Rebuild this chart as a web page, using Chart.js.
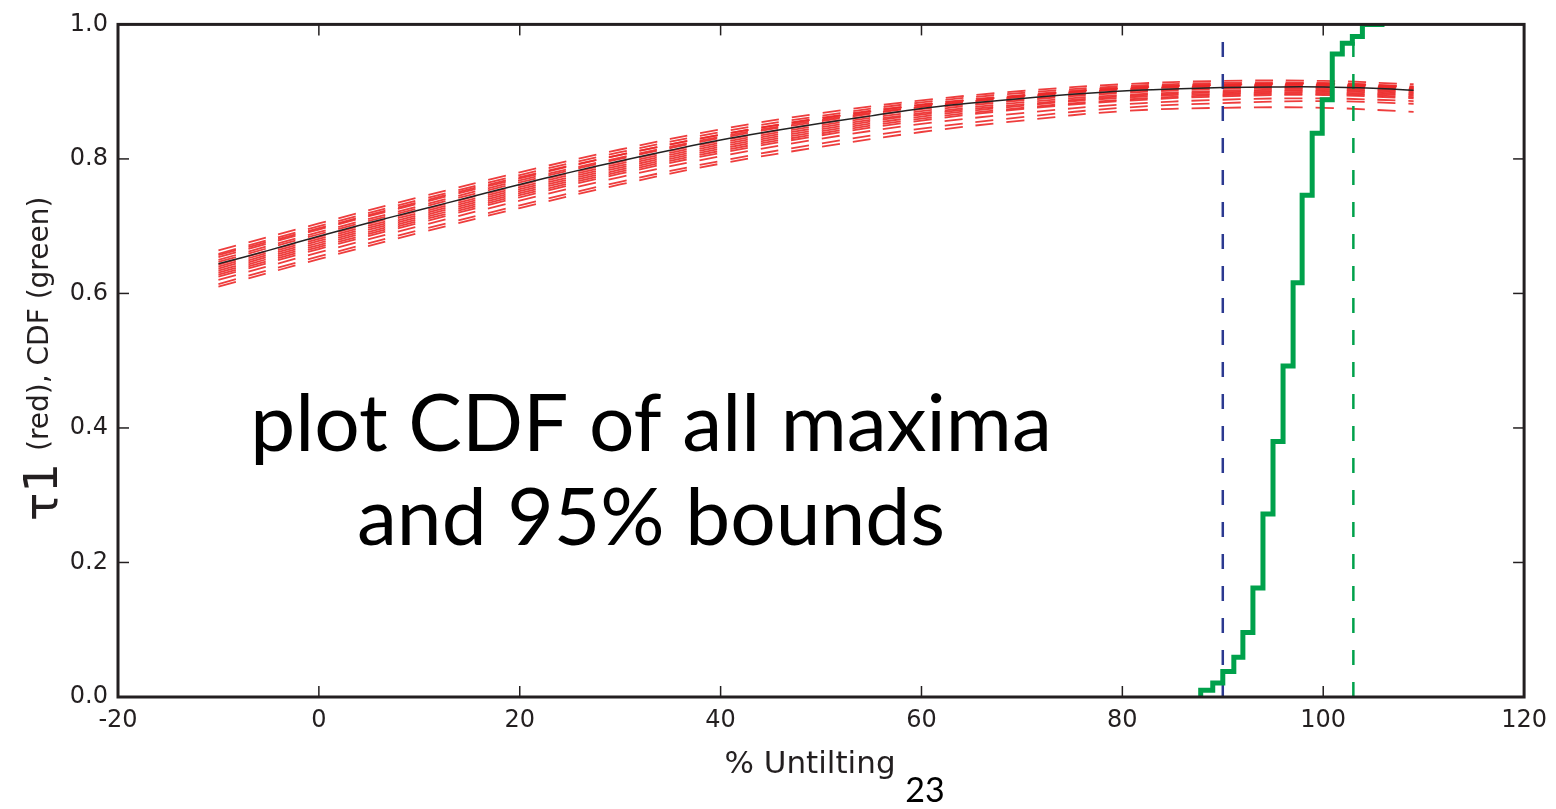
<!DOCTYPE html>
<html>
<head>
<meta charset="utf-8">
<script src="https://cdn.jsdelivr.net/npm/chart.js@4.4.1/dist/chart.umd.min.js"></script>
<style>
  body { margin: 0; background: #fff; }
  canvas { display: block; }
</style>
</head>
<body>
<canvas id="cdfChart" width="1556" height="809"></canvas>
<script>
// axis ticks
const xTicks = [-20, 0, 20, 40, 60, 80, 100, 120];
const yTicks = [0, 0.2, 0.4, 0.6, 0.8, 1.0];

// % untilting where the tau1 curves are sampled
const untilt = [-10, 0, 10, 20, 30, 40, 50, 60, 70, 80, 90, 100, 109];

// mean tau1 curve (black)
const meanX = [-10, -5, 0, 5, 10, 15, 20, 25, 30, 35, 40, 45, 50, 55, 60, 65, 70, 75, 80, 85, 90, 95, 100, 105, 109];
const meanTau = [0.644, 0.664, 0.685, 0.705, 0.724, 0.743, 0.762, 0.780, 0.797, 0.813, 0.828, 0.841, 0.853, 0.864, 0.875, 0.883, 0.890, 0.896, 0.901, 0.904, 0.906, 0.907, 0.907, 0.905, 0.902];

// bootstrap tau1 curves (red dashed)
const bootTau = [
  [0.664, 0.704, 0.743, 0.780, 0.814, 0.844, 0.868, 0.887, 0.901, 0.911, 0.916, 0.916, 0.911],
  [0.659, 0.700, 0.739, 0.776, 0.810, 0.840, 0.864, 0.884, 0.898, 0.908, 0.913, 0.913, 0.908],
  [0.657, 0.697, 0.736, 0.773, 0.806, 0.836, 0.860, 0.880, 0.894, 0.905, 0.910, 0.912, 0.907],
  [0.654, 0.695, 0.734, 0.771, 0.806, 0.836, 0.861, 0.881, 0.895, 0.906, 0.911, 0.911, 0.906],
  [0.650, 0.691, 0.730, 0.768, 0.802, 0.833, 0.858, 0.878, 0.893, 0.904, 0.909, 0.910, 0.905],
  [0.647, 0.688, 0.727, 0.765, 0.800, 0.831, 0.856, 0.877, 0.892, 0.903, 0.908, 0.909, 0.904],
  [0.643, 0.684, 0.723, 0.761, 0.796, 0.827, 0.853, 0.874, 0.889, 0.900, 0.906, 0.907, 0.902],
  [0.640, 0.681, 0.720, 0.758, 0.793, 0.824, 0.850, 0.871, 0.887, 0.898, 0.904, 0.905, 0.900],
  [0.637, 0.678, 0.717, 0.755, 0.790, 0.821, 0.847, 0.868, 0.884, 0.895, 0.901, 0.903, 0.898],
  [0.634, 0.675, 0.714, 0.752, 0.787, 0.818, 0.844, 0.866, 0.881, 0.893, 0.899, 0.901, 0.896],
  [0.631, 0.672, 0.711, 0.749, 0.784, 0.815, 0.841, 0.863, 0.879, 0.891, 0.897, 0.899, 0.894],
  [0.628, 0.669, 0.708, 0.746, 0.781, 0.812, 0.838, 0.860, 0.876, 0.888, 0.895, 0.897, 0.892],
  [0.625, 0.666, 0.705, 0.743, 0.778, 0.809, 0.835, 0.857, 0.874, 0.886, 0.893, 0.895, 0.890],
  [0.620, 0.661, 0.700, 0.738, 0.773, 0.804, 0.830, 0.852, 0.868, 0.881, 0.888, 0.890, 0.886],
  [0.614, 0.655, 0.694, 0.731, 0.766, 0.797, 0.823, 0.845, 0.862, 0.876, 0.883, 0.886, 0.882],
  [0.610, 0.651, 0.690, 0.727, 0.762, 0.793, 0.818, 0.840, 0.857, 0.871, 0.876, 0.876, 0.870]
];

// CDF of all maxima (green steps)
const cdfX = [87.8, 87.8, 89.0, 90.0, 91.1, 92.0, 93.0, 94.0, 95.0, 96.0, 97.0, 97.9, 98.9, 99.9, 100.9, 101.9, 102.9, 103.9, 106.1];
const cdfY = [0, 0.010, 0.021, 0.038, 0.059, 0.096, 0.162, 0.272, 0.380, 0.492, 0.616, 0.746, 0.838, 0.888, 0.956, 0.972, 0.982, 1.0, 1.0];

// 95% bounds
const lowerBound = 90;
const upperBound = 103;

const ink = '#231f20';
const green = '#00a14b';

const toPts = (xs, ys) => xs.map((x, i) => ({ x: x, y: ys[i] }));

const datasets = [];
datasets.push({
    data: toPts(cdfX, cdfY),
    borderColor: green,
    borderWidth: 5,
    stepped: 'before',
    order: 0
});
datasets.push({
    data: toPts(meanX, meanTau),
    borderColor: '#222',
    borderWidth: 1.5,
    tension: 0.4,
    order: 1
});
datasets.push({
    data: [{ x: lowerBound, y: 0 }, { x: lowerBound, y: 1 }],
    borderColor: '#2b3990',
    borderWidth: 2.5,
    borderDash: [15, 17],
    order: 2
});
datasets.push({
    data: [{ x: upperBound, y: 0 }, { x: upperBound, y: 1 }],
    borderColor: green,
    borderWidth: 2.5,
    borderDash: [15, 17],
    order: 2
});
bootTau.forEach(curve => {
    datasets.push({
        data: toPts(untilt, curve),
        borderColor: 'rgba(236, 40, 40, 0.9)',
        borderWidth: 1.8,
        borderDash: [18, 13],
        tension: 0.4,
        order: 3
    });
});

const overlay = {
    id: 'overlay',
    afterDraw(chart) {
        const { ctx, chartArea: a, scales } = chart;
        const sx = scales.x, sy = scales.y;
        ctx.save();
        ctx.strokeStyle = ink;
        ctx.lineWidth = 1.5;
        const seg = (x1, y1, x2, y2) => { ctx.beginPath(); ctx.moveTo(x1, y1); ctx.lineTo(x2, y2); ctx.stroke(); };
        xTicks.forEach(v => {
            const px = sx.getPixelForValue(v);
            seg(px, a.bottom, px, a.bottom - 11);
            seg(px, a.top, px, a.top + 11);
        });
        yTicks.forEach(v => {
            const py = sy.getPixelForValue(v);
            seg(a.left, py, a.left + 11, py);
            seg(a.right, py, a.right - 11, py);
        });
        ctx.lineWidth = 3;
        ctx.strokeRect(a.left, a.top, a.right - a.left, a.bottom - a.top);

        ctx.fillStyle = ink;
        // x axis title
        ctx.textAlign = 'center';
        ctx.textBaseline = 'alphabetic';
        ctx.font = '31px "DejaVu Sans"';
        ctx.fillText('% Untilting', 810, 773);
        ctx.fillStyle = '#000';
        ctx.font = '34px Lato';
        ctx.fillText('23', 925, 802);

        // y axis title (rotated)
        ctx.fillStyle = ink;
        ctx.save();
        ctx.translate(57, 521);
        ctx.rotate(-Math.PI / 2);
        ctx.textAlign = 'left';
        ctx.font = '47px "DejaVu Sans"';
        ctx.fillText('\u03c41', 0, 0);
        ctx.font = '28px "DejaVu Sans"';
        ctx.fillText('(red), CDF (green)', 70, -9);
        ctx.restore();

        // annotation
        ctx.fillStyle = '#000';
        ctx.textAlign = 'center';
        ctx.font = '66px Lato';
        const w = ctx.measureText('plot CDF of all maxima').width;
        const size = 66 * 802 / w;
        ctx.font = size.toFixed(1) + 'px Lato';
        ctx.fillText('plot CDF of all maxima', 651, 451);
        ctx.fillText('and 95% bounds', 651, 545);
        ctx.restore();
    }
};

new Chart(document.getElementById('cdfChart').getContext('2d'), {
    type: 'scatter',
    data: { datasets: datasets },
    options: {
        responsive: false,
        animation: false,
        showLine: true,
        elements: { point: { radius: 0, hoverRadius: 0 }, line: { fill: false } },
        layout: { padding: { top: 20, right: 29, left: 0, bottom: 0 } },
        plugins: { legend: { display: false }, tooltip: { enabled: false } },
        scales: {
            x: {
                type: 'linear',
                min: -20,
                max: 120,
                afterBuildTicks: s => { s.ticks = xTicks.map(v => ({ value: v })); },
                afterFit: s => { s.height = 112; },
                grid: { display: false, drawTicks: false },
                border: { display: false },
                ticks: {
                    padding: 9,
                    color: ink,
                    font: { family: 'DejaVu Sans', size: 24 },
                    maxRotation: 0,
                    callback: v => String(v)
                }
            },
            y: {
                type: 'linear',
                min: 0,
                max: 1,
                afterBuildTicks: s => { s.ticks = yTicks.map(v => ({ value: v })); },
                afterFit: s => { s.width = 118; },
                grid: { display: false, drawTicks: false },
                border: { display: false },
                ticks: {
                    padding: 10,
                    color: ink,
                    font: { family: 'DejaVu Sans', size: 24 },
                    callback: v => v.toFixed(1)
                }
            }
        }
    },
    plugins: [overlay]
});
</script>
</body>
</html>
